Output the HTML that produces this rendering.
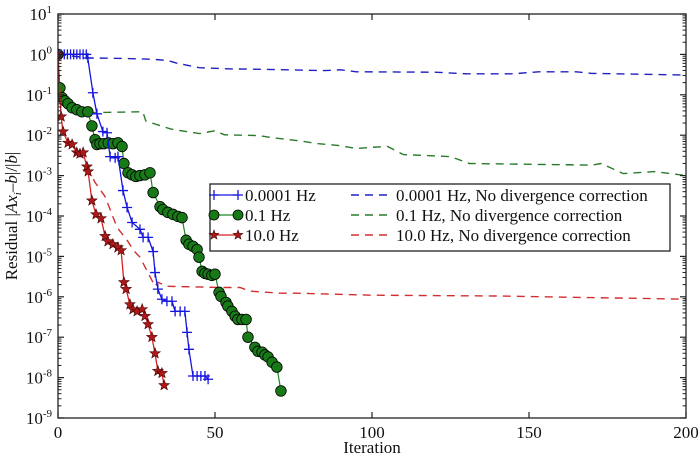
<!DOCTYPE html>
<html><head><meta charset="utf-8"><style>
html,body{margin:0;padding:0;background:#fff;}
svg{display:block;font-family:"Liberation Serif",serif;}
</style></head><body>
<svg id="chart" width="700" height="461" viewBox="0 0 700 461" xmlns="http://www.w3.org/2000/svg">
<g id="marks"></g>
<g id="axes"></g>
</svg>
<script>
const blueIter=[0,1,2,3,4,5,6,7,8,9,9.5,11.1,12.4,14.3,15.6,16.6,18.2,19.1,20.7,22,23.6,26.1,27.1,28.7,30.3,30.9,31.8,33.1,34.7,36.3,37.3,38.9,40.4,41.1,41.7,43,44.3,45.5,46.8,47.8];
const blueLog=[0,0,0,0,0,0,0,0,0,0,-0.09,-0.95,-1.47,-1.91,-1.94,-2.53,-2.56,-2.53,-3.37,-3.79,-4.16,-4.33,-4.53,-4.53,-4.88,-5.4,-5.81,-6.06,-6.11,-6.11,-6.36,-6.36,-6.36,-6.88,-7.3,-7.96,-7.96,-7.96,-7.96,-8.04];
const greenIter=[0,0.6,1.3,2.2,3.2,4.5,6,7.6,9.5,10.8,11.8,12.4,13.4,14.6,16,17.5,19.1,20.4,21,22.3,23.6,24.8,26.1,27.7,29.3,30.3,32.5,33.4,35,36.6,38.2,39.5,40.8,41.7,43,44.3,44.9,45.9,46.8,47.8,49,50,51.3,51.9,53.5,54.1,55.4,56.4,57.3,58.6,59.9,60.5,62.7,63.7,65,65.9,66.9,68.2,69.7,71];
const greenLog=[0,-0.83,-1.07,-1.15,-1.22,-1.32,-1.37,-1.42,-1.42,-1.77,-2.11,-2.23,-2.21,-2.21,-2.19,-2.21,-2.19,-2.28,-2.7,-2.93,-2.98,-3.02,-3.0,-2.98,-2.93,-3.42,-3.77,-3.84,-3.91,-3.96,-4.01,-4.04,-4.6,-4.7,-4.75,-4.83,-5.02,-5.37,-5.42,-5.44,-5.47,-5.44,-5.89,-5.99,-6.14,-6.23,-6.36,-6.48,-6.56,-6.56,-6.56,-7.0,-7.25,-7.35,-7.37,-7.44,-7.49,-7.62,-7.74,-8.33];
const redIter=[0,1,1.6,3.2,4.5,6,7,8,9.2,9.6,10.8,12.1,13.7,15,15.9,17.5,19.1,20.1,21,21.7,22.9,23.9,25.2,26.8,27.7,28.7,29.9,30.9,31.8,33.1,33.8];
const redLog=[0,-1.54,-1.91,-2.19,-2.23,-2.43,-2.46,-2.43,-2.78,-2.9,-3.62,-3.96,-4.06,-4.5,-4.63,-4.7,-4.78,-4.85,-5.64,-5.81,-6.19,-6.31,-6.36,-6.31,-6.48,-6.68,-7.0,-7.4,-7.84,-7.89,-8.19];
const blueDashIter=[0,10,20,30,35,38,45,55,65,85,90,95,120,130,145,153,165,170,200];
const blueDashLog=[0,-0.09,-0.1,-0.12,-0.15,-0.22,-0.33,-0.36,-0.37,-0.4,-0.38,-0.43,-0.44,-0.48,-0.48,-0.43,-0.43,-0.47,-0.51];
const greenDashIter=[10,11,27,28,36,45,50,53,64,68,77,83,90,95,100,105,110,125,131,170,173,180,190,200];
const greenDashLog=[-1.42,-1.44,-1.42,-1.65,-1.85,-1.96,-1.89,-1.99,-2.01,-2.06,-2.14,-2.21,-2.26,-2.33,-2.3,-2.28,-2.48,-2.53,-2.7,-2.74,-2.7,-2.95,-2.9,-3.0];
const redDashIter=[9.2,11.8,15,16.6,18.8,22,24,26.1,29.3,30.9,31.8,34.7,52,58,61,70.7,76,100,140,170,200];
const redDashLog=[-2.78,-3.17,-3.52,-3.84,-4.28,-4.6,-4.85,-5.02,-5.5,-5.74,-5.64,-5.74,-5.77,-5.77,-5.86,-5.91,-5.91,-5.96,-5.98,-6.02,-6.06];
const xTicks=[0,50,100,150,200];
const yExps=[1,0,-1,-2,-3,-4,-5,-6,-7,-8,-9];

const NS="http://www.w3.org/2000/svg";
const L=58,R=686,T=14,B=418;
function sx(v){return L+(v/200)*(R-L);}
function sy(e){return T+(1-e)/10*(B-T);}
const marks=document.getElementById('marks');
const axes=document.getElementById('axes');
function mk(tag,attrs,parent){const e=document.createElementNS(NS,tag);for(const k in attrs)e.setAttribute(k,attrs[k]);parent.appendChild(e);return e;}
function pts(xs,ys){return xs.map((x,i)=>sx(x).toFixed(1)+','+sy(ys[i]).toFixed(1)).join(' ');}

// clip
const defs=mk('defs',{},marks);
const cp=mk('clipPath',{id:'clip'},defs);
mk('rect',{x:L,y:T,width:R-L,height:B-T},cp);
const g=mk('g',{'clip-path':'url(#clip)'},marks);

function dashLine(xs,ys,color,name){
  const p=mk('polyline',{points:pts(xs,ys),fill:'none',stroke:color,'stroke-width':1.4,'stroke-dasharray':'8,6'},g);
  
  
}
dashLine(blueDashIter,blueDashLog,'#2020c0','line-0001hz-no-correction');
dashLine(greenDashIter,greenDashLog,'#2a7a2a','line-01hz-no-correction');
dashLine(redDashIter,redDashLog,'#d03030','line-10hz-no-correction');

function star(cx,cy,r,parent){
  let d='';
  for(let i=0;i<10;i++){const a=-Math.PI/2+i*Math.PI/5;const rr=i%2?r*0.42:r;d+=(i?'L':'M')+(cx+rr*Math.cos(a)).toFixed(1)+','+(cy+rr*Math.sin(a)).toFixed(1);}
  return mk('path',{d:d+'Z',fill:'#b01818',stroke:'#400','stroke-width':0.6},parent);
}
// green
let gl=mk('polyline',{points:pts(greenIter,greenLog),fill:'none',stroke:'#1a8a1a','stroke-width':1.2},g);


greenIter.forEach((x,i)=>{
  const c=mk('circle',{cx:sx(x),cy:sy(greenLog[i]),r:5.3,fill:'#177a17',stroke:'#000','stroke-width':0.8},g);
  
  
});
// blue
let bl=mk('polyline',{points:pts(blueIter,blueLog),fill:'none',stroke:'#1515e0','stroke-width':1.3},g);


blueIter.forEach((x,i)=>{
  const X=sx(x),Y=sy(blueLog[i]);
  const p=mk('path',{d:`M${X-5},${Y}H${X+5}M${X},${Y-5}V${Y+5}`,stroke:'#1515e0','stroke-width':1.3},g);
  
  
});
// red
let rl=mk('polyline',{points:pts(redIter,redLog),fill:'none',stroke:'#d82020','stroke-width':1.3},g);


redIter.forEach((x,i)=>{
  const s=star(sx(x),sy(redLog[i]),5.5,g);
  
  
});

// axes frame
const fr=mk('rect',{x:L,y:T,width:R-L,height:B-T,fill:'none',stroke:'#222','stroke-width':1.3},axes);


// x ticks
xTicks.forEach(v=>{
  const X=sx(v);
  mk('line',{x1:X,y1:B,x2:X,y2:B-6,stroke:'#222','stroke-width':1.2},axes);
  mk('line',{x1:X,y1:T,x2:X,y2:T+6,stroke:'#222','stroke-width':1.2},axes);
  const t=mk('text',{x:X,y:B+20,'text-anchor':'middle','font-size':17,fill:'#111'},axes);
  t.textContent=v;
  
  
});
// y ticks
yExps.forEach(e=>{
  const Y=sy(e);
  mk('line',{x1:L,y1:Y,x2:L+6,y2:Y,stroke:'#222','stroke-width':1.2},axes);
  mk('line',{x1:R,y1:Y,x2:R-6,y2:Y,stroke:'#222','stroke-width':1.2},axes);
  if(e>-9){for(let m=2;m<10;m++){const yy=sy(e-1+Math.log10(m));
    mk('line',{x1:L,y1:yy,x2:L+3.5,y2:yy,stroke:'#222','stroke-width':1},axes);
    mk('line',{x1:R,y1:yy,x2:R-3.5,y2:yy,stroke:'#222','stroke-width':1},axes);}}
  const t=mk('text',{x:L-6,y:Y+6,'text-anchor':'end','font-size':17,fill:'#111'},axes);
  
  
  const a=document.createElementNS(NS,'tspan');a.textContent='10';t.appendChild(a);
  const b=document.createElementNS(NS,'tspan');b.setAttribute('dy','-7');b.setAttribute('font-size','11');b.textContent=String(e).replace('-','-');t.appendChild(b);
});
const xt=mk('text',{x:(L+R)/2,y:453,'text-anchor':'middle','font-size':17,fill:'#111'},axes);
xt.textContent='Iteration';


const yt=mk('text',{x:0,y:0,transform:`translate(17,${(T+B)/2}) rotate(-90)`,'text-anchor':'middle','font-size':17,fill:'#111'},axes);


yt.innerHTML='Residual |<tspan font-style="italic">Ax</tspan><tspan font-size="11" dy="4" font-style="italic">i</tspan><tspan dy="-4">–</tspan><tspan font-style="italic">b</tspan>|/|<tspan font-style="italic">b</tspan>|';

// legend
const lg=mk('g',{},axes);


mk('rect',{x:210,y:184,width:460,height:67,fill:'#fff',stroke:'#222','stroke-width':1.3},lg);
const rows=[195,215,235];
const solidNames=['0.0001 Hz','0.1 Hz','10.0 Hz'];
const dashNames=['0.0001 Hz, No divergence correction','0.1 Hz, No divergence correction','10.0 Hz, No divergence correction'];
const cols=['#1515e0','#1a8a1a','#d82020'];
const dcols=['#2020c0','#2a7a2a','#d03030'];
rows.forEach((y,i)=>{
  const e=mk('g',{},lg);
  
  
  mk('line',{x1:214,y1:y,x2:238,y2:y,stroke:cols[i],'stroke-width':1.3},e);
  [214,238].forEach(xx=>{
    if(i===0)mk('path',{d:`M${xx-5},${y}H${xx+5}M${xx},${y-5}V${y+5}`,stroke:cols[i],'stroke-width':1.3},e);
    if(i===1)mk('circle',{cx:xx,cy:y,r:5,fill:'#177a17',stroke:'#000','stroke-width':0.8},e);
    if(i===2)star(xx,y,5,e);
  });
  const t=mk('text',{x:245,y:y+6,'font-size':17,fill:'#111'},e);t.textContent=solidNames[i];
  const e2=mk('g',{},lg);
  
  
  mk('line',{x1:351,y1:y,x2:391,y2:y,stroke:dcols[i],'stroke-width':1.4,'stroke-dasharray':'8,6'},e2);
  const t2=mk('text',{x:396,y:y+6,'font-size':17,fill:'#111'},e2);t2.textContent=dashNames[i];
});
</script>
</body></html>
